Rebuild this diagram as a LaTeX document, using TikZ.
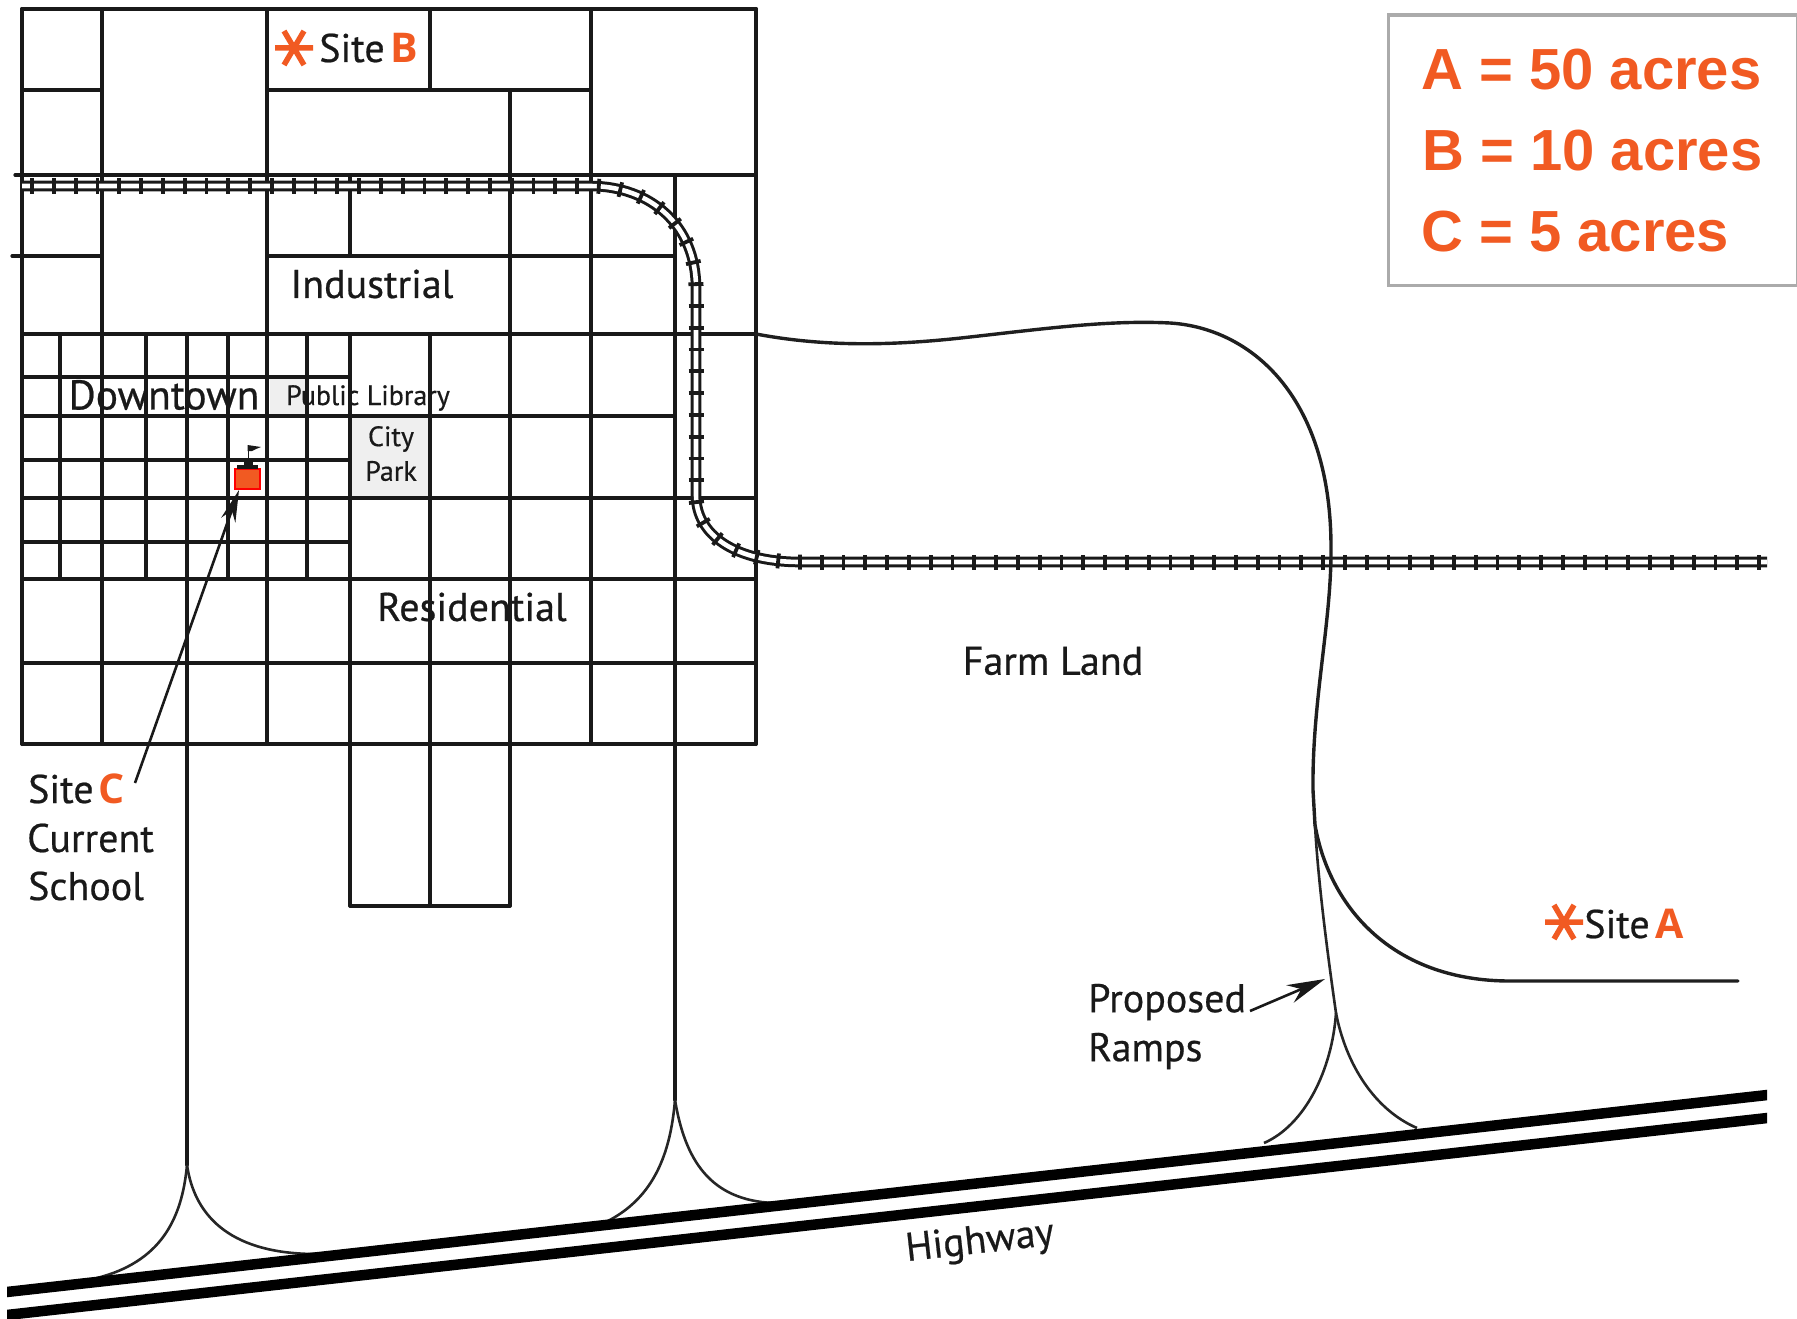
\documentclass[tikz,border=0pt]{standalone}
\usepackage{fontspec}
\setmainfont[FakeBold=0.55]{PT Sans}
\newfontfamily\letterfont{Open Sans}
\newfontfamily\legendfont{Liberation Sans}
\usetikzlibrary{decorations.markings,arrows.meta,calc}
\definecolor{siteorange}{HTML}{F15A22}
\definecolor{legendgray}{HTML}{ABABAB}
\definecolor{cellgray}{HTML}{EFEFEF}
\newcommand{\railroute}{(22,186) -- (590,186) .. controls (650,186) and (697,225) .. (696,290)
  -- (696,495) .. controls (696,535) and (735,562) .. (800,562) -- (1767,562)}
\tikzset{
  x=1pt,y=-1pt,
  road/.style={draw=black!90,line width=3.2pt,line cap=round},
  heavy/.style={draw=black!90,line width=4pt,line cap=round},
  curveroad/.style={draw=black!88,line width=3.4pt,line cap=round},
  ramp/.style={draw=black!85,line width=2.6pt},
  highway/.style={draw=black,line width=10.5pt},
  rail/.style={draw=black!90,line width=3pt,double=white,double distance=4.6pt},
  label/.style={inner sep=0pt,font=\fontsize{40}{40}\selectfont,text=black!90},
  smalllabel/.style={inner sep=0pt,font=\fontsize{28}{28}\selectfont,text=black!90},
  sitelet/.style={inner sep=0pt,font=\letterfont\fontsize{41}{41}\selectfont\bfseries,text=siteorange},
  legendline/.style={inner sep=0pt,anchor=base west,font=\legendfont\fontsize{58}{58}\selectfont\bfseries,text=siteorange},
  railtie/.style={decorate,decoration={markings,
     mark=between positions 10pt and 1 step 21.8pt with {\draw[black!90,line width=3.8pt] (0pt,-7.5pt) -- (0pt,7.5pt);}}},
  pics/sitestar/.style={code={
     \draw[siteorange,line width=5.5pt] (-19,0) -- (19,0) (-10,-17) -- (10,17) (10,-17) -- (-10,17);}},
}
\begin{document}
\begin{tikzpicture}
\useasboundingbox (0,0) rectangle (1797,1319);
% grey cells
\fill[cellgray] (270,377) rectangle (307,416);
\fill[cellgray] (350,416) rectangle (430,498);
% horizontals
\foreach \y/\a/\b in {90/22/102,90/267/591,175/15/756,256/12/102,256/267/675,334/22/756,377/22/350,416/22/675,460/22/350,498/22/756,542/22/350,579/22/756,663/22/756,744/22/756,906/350/510}
  \draw[road] (\a,\y) -- (\b,\y);
\draw[heavy] (22,9) -- (756,9);
% verticals
\foreach \x/\a/\b in {102/9/744,267/9/744,350/175/256,350/334/906,430/9/90,430/334/906,510/90/906,591/9/744,60/334/579,146/334/579,228/334/579,307/334/579}
  \draw[road] (\x,\a) -- (\x,\b);
\draw[road] (187,334) -- (187,1165);
\draw[road] (675,175) -- (675,1100);
\draw[heavy] (22,9) -- (22,744);
\draw[heavy] (756,9) -- (756,744);
% railway
\draw[rail] \railroute;
\path[railtie] \railroute;
% school
\draw[fill=siteorange,draw=red,line width=1.8pt] (235,469) rectangle (260,489);
\fill[black!90] (237,465) rectangle (258,469);
\fill[black!90] (244,459) rectangle (253,465);
\draw[black!90,line width=1.6pt] (248.5,459) -- (248.5,445);
\fill[black!90] (247.5,445) -- (261,447) -- (256,449) -- (252,451) -- (247.5,451) -- cycle;
% main road curve to Site A and ramps
\coordinate (farmstart) at (756,334);
\draw[curveroad] (farmstart) .. controls (830,348) and (900,345) .. (970,337)
  .. controls (1050,328) and (1110,320) .. (1170,323)
  .. controls (1250,328) and (1330,395) .. (1331,545)
  .. controls (1332,620) and (1312,700) .. (1313,790) -- (1315,825);
\draw[curveroad] (1315,825) .. controls (1330,910) and (1395,981) .. (1510,981) -- (1738,981);
\draw[ramp] (1315,825) .. controls (1318,880) and (1327,950) .. (1336,1013);
\draw[ramp] (1336,1013) .. controls (1332,1070) and (1305,1125) .. (1264,1143);
\draw[ramp] (1336,1013) .. controls (1346,1065) and (1375,1110) .. (1417,1128);
\draw[ramp] (187,1165) .. controls (182,1220) and (160,1262) .. (97,1278);
\draw[ramp] (187,1165) .. controls (195,1220) and (235,1254) .. (316,1254);
\draw[ramp] (675,1100) .. controls (670,1160) and (650,1200) .. (606,1222);
\draw[ramp] (675,1100) .. controls (685,1160) and (710,1200) .. (773,1203);
% highway
\begin{scope}
\clip (7,1050) rectangle (1767,1319);
\draw[highway] (-3,1293.1) -- (1777,1093.9);
\draw[highway] (-3,1316.1) -- (1777,1116.9);
\end{scope}
% legend
\node[draw=legendgray,line width=3.6pt,minimum width=409pt,minimum height=270pt,anchor=north west,inner sep=0pt] (legend) at (1386.5,13.5) {};
\node[legendline] (la) at (1421,90) {A = 50 acres};
\node[legendline] (lb) at (1422,171) {B = 10 acres};
\node[legendline] (lc) at (1421,251) {C = 5 acres};
% labels
\pic at (294,48) {sitestar};
\node[label] (siteB) at (352,48) {Site};
\node[sitelet] (letB) at (404,48) {B};
\node[label] (industrial) at (372,284) {Industrial};
\node[label,font=\fontsize{41.5}{41.5}\selectfont] (downtown) at (164,395) {Downtown};
\node[smalllabel] (library) at (368,398) {Public Library};
\node[smalllabel] (city) at (391,439) {City};
\node[smalllabel] (park) at (391,471) {Park};
\node[label] (residential) at (472,607) {Residential};
\node[label] (farm) at (1053,661) {Farm Land};
\node[label,anchor=west] (siteC) at (28,789) {Site};
\node[sitelet] (letC) at (112,789) {C};
\node[label,anchor=west] (current) at (27,838) {Current};
\node[label,anchor=west] (school) at (28,886) {School};
\node[label,anchor=west] (proposed) at (1088,1002) {Proposed};
\node[label,anchor=west] (ramps) at (1088,1051) {Ramps};
\node[label,rotate=6.4] (highwaylabel) at (980,1243) {Highway};
\pic at (1564,922) {sitestar};
\node[label] (siteA) at (1617,924) {Site};
\node[sitelet] (letA) at (1670,924) {A};
% pointers
\coordinate (schooltip) at (239,490);
\coordinate (ramptip) at (1325,979);
\draw[black!90,line width=2.6pt,-{Stealth[length=32pt,width=15pt]}] (135,783) -- (schooltip);
\draw[black!90,line width=2.6pt,-{Stealth[length=38pt,width=19pt]}] (1250,1011) -- (ramptip);
\end{tikzpicture}
\end{document}
